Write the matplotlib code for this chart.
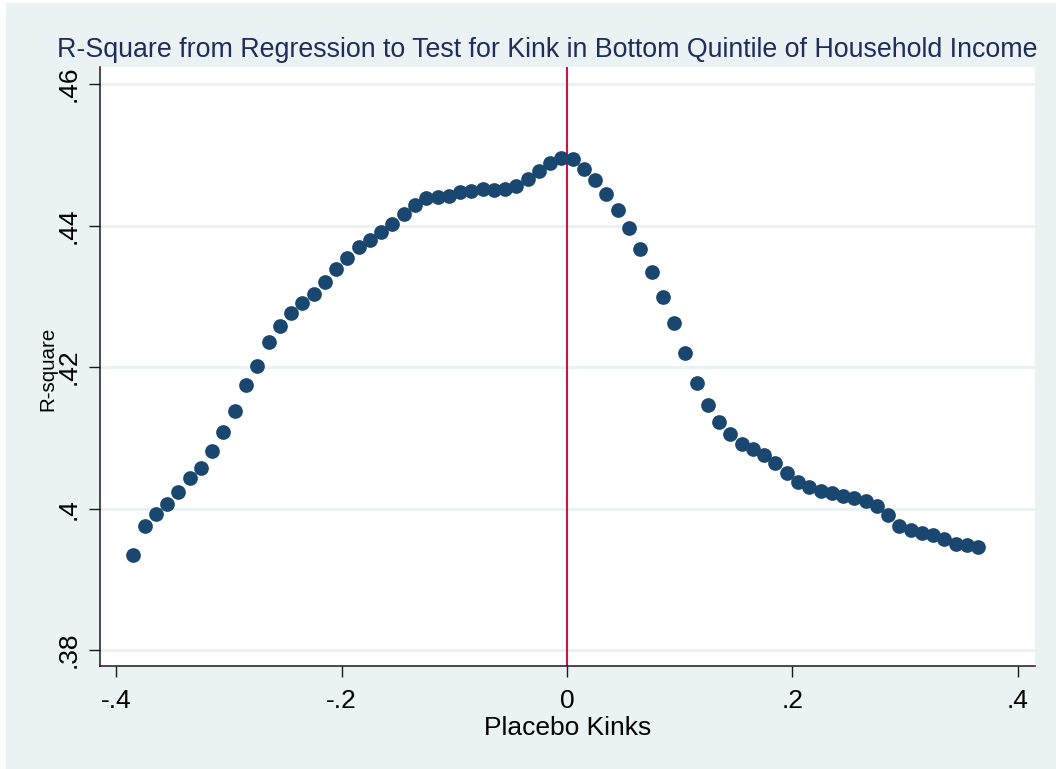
import matplotlib
matplotlib.use("Agg")
import matplotlib.pyplot as plt
from matplotlib import font_manager
import numpy as np

# Placebo kink locations and R-squared from each regression
kinks = np.round(np.arange(-0.385, 0.3651, 0.01), 3)
r_square = [
    0.3935, 0.3975, 0.3992, 0.4006, 0.4024, 0.4043, 0.4058, 0.4082, 0.4108, 0.4138,
    0.4175, 0.4201, 0.4235, 0.4258, 0.4276, 0.4291, 0.4303, 0.4320, 0.4338, 0.4354,
    0.4369, 0.4380, 0.4391, 0.4402, 0.4416, 0.4429, 0.4439, 0.4441, 0.4442, 0.4447,
    0.4449, 0.4451, 0.4450, 0.4451, 0.4456, 0.4466, 0.4477, 0.4489, 0.4496, 0.4494,
    0.4480, 0.4465, 0.4444, 0.4422, 0.4396, 0.4367, 0.4334, 0.4299, 0.4262, 0.4220,
    0.4178, 0.4146, 0.4123, 0.4106, 0.4092, 0.4084, 0.4076, 0.4064, 0.4050, 0.4038,
    0.4030, 0.4025, 0.4022, 0.4018, 0.4015, 0.4011, 0.4004, 0.3991, 0.3975, 0.3970,
    0.3966, 0.3962, 0.3957, 0.3950, 0.3949, 0.3946,
]
x_ticks = [-0.4, -0.2, 0.0, 0.2, 0.4]
x_tick_labels = ["-.4", "-.2", "0", ".2", ".4"]
y_ticks = [0.38, 0.40, 0.42, 0.44, 0.46]
y_tick_labels = [".38", ".4", ".42", ".44", ".46"]
true_kink = 0.0


def pick_font(candidates):
    for name in candidates:
        try:
            font_manager.findfont(name, fallback_to_default=False)
            return name
        except Exception:
            continue
    return "DejaVu Sans"


FONT = pick_font(["Liberation Sans", "Arial"])
plt.rcParams["font.family"] = [FONT, "DejaVu Sans"]

BG = "#EAF2F3"
NAVY = "#1A476F"
RED = "#CC1440"
TICK_SIZE = 19

fig = plt.figure(figsize=(10.56, 7.69), dpi=100, facecolor="white")
# light bluish graph region with a thin white rim on the top and left
fig.patches.append(plt.Rectangle((6 / 1056, 0), 1 - 6 / 1056, 1 - 3 / 769,
                                 transform=fig.transFigure, facecolor=BG,
                                 edgecolor="none", zorder=-10))

ax = fig.add_axes([100 / 1056, 1 - 665.7 / 769, 935 / 1056, (665.7 - 66.7) / 769])
ax.set_facecolor("white")

ax.set_xlim(-0.4146, 0.4154)
ax.set_ylim(0.3778, 0.46245)

ax.set_yticks(y_ticks)
ax.set_yticklabels(y_tick_labels, rotation=90, va="center")
ax.set_xticks(x_ticks)
ax.set_xticklabels(x_tick_labels)

ax.grid(axis="y", color=BG, linewidth=2.2, zorder=0)
ax.set_axisbelow(True)

for side in ("top", "right"):
    ax.spines[side].set_visible(False)
for side in ("left", "bottom"):
    ax.spines[side].set_color("#1a1a1a")
    ax.spines[side].set_linewidth(1.1)

ax.tick_params(axis="both", direction="out", length=8, width=1.0,
               color="#1a1a1a", labelsize=TICK_SIZE, labelcolor="black")
ax.tick_params(axis="y", pad=6)
ax.tick_params(axis="x", pad=9)

ax.axvline(true_kink, color=RED, linewidth=1.5, zorder=2)
ax.plot(kinks, r_square, linestyle="none", marker="o", markersize=10.6,
        markerfacecolor=NAVY, markeredgewidth=0, zorder=3)

ax.set_xlabel("Placebo Kinks", fontsize=TICK_SIZE, labelpad=2)
fig.text(48 / 1056, 1 - 369 / 769, "R-square", rotation=90, fontsize=14.8,
         ha="center", va="center")

fig.text(547 / 1056, 1 - 50 / 769,
         "R-Square from Regression to Test for Kink in Bottom Quintile of Household Income",
         fontsize=19.3, color="#1E2D5A", ha="center", va="center")

fig.savefig("out.png", dpi=100, facecolor=fig.get_facecolor())
